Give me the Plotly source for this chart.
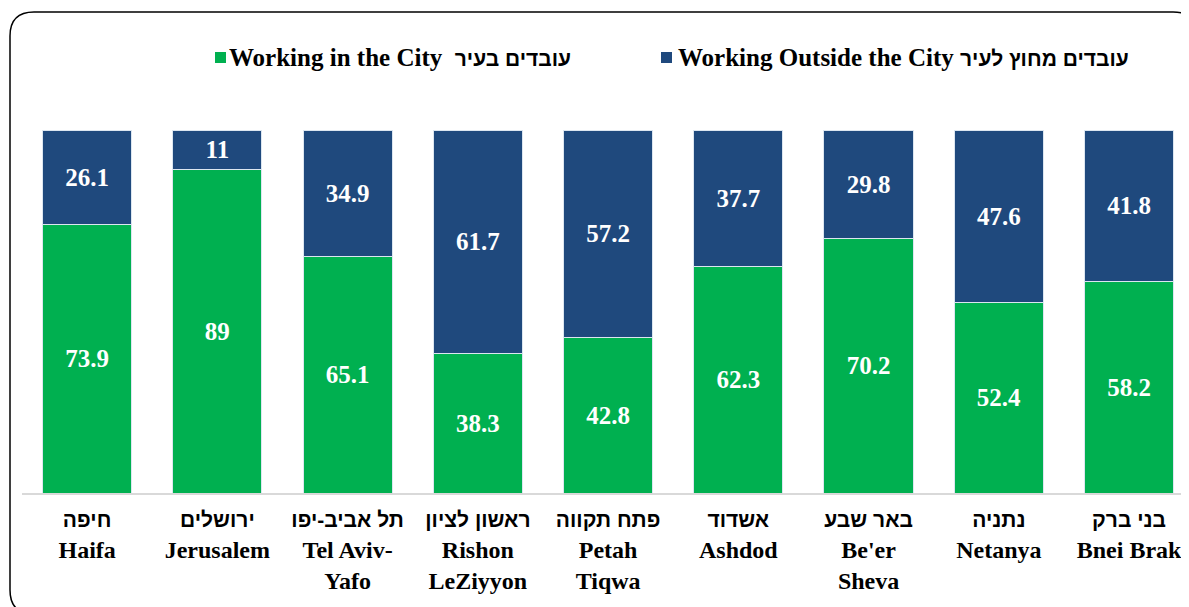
import plotly.graph_objects as go

# נתונים - אחוז העובדים בעיר ומחוץ לעיר
heb_names = ["חיפה", "ירושלים", "תל אביב-יפו", "ראשון לציון", "פתח תקווה",
             "אשדוד", "באר שבע", "נתניה", "בני ברק"]
eng_names = ["Haifa", "Jerusalem", "Tel Aviv-<br>Yafo", "Rishon<br>LeZiyyon",
             "Petah<br>Tiqwa", "Ashdod", "Be'er<br>Sheva", "Netanya", "Bnei Brak"]
in_city = [73.9, 89, 65.1, 38.3, 42.8, 62.3, 70.2, 52.4, 58.2]
outside_city = [26.1, 11, 34.9, 61.7, 57.2, 37.7, 29.8, 47.6, 41.8]

HEB = "<span style=\"font-family:'Liberation Sans';font-size:21px\">{}</span>"
cities = [HEB.format(h) + "<br>" + e for h, e in zip(heb_names, eng_names)]
name_in = "Working in the City  " + HEB.format("עובדים בעיר")
name_out = "Working Outside the City " + HEB.format("עובדים מחוץ לעיר")

GREEN, BLUE = "#00B050", "#1F497D"

# הדף מוסיף 8 פיקסלים של שוליים, לכן הגודל קטן ב-8
W, H = 1181, 599
ML, MR, MT, MB = 14, 0, 122, 114
SERIF = "Liberation Serif, Times New Roman, serif"

fig = go.Figure()
fig.add_trace(go.Bar(
    x=cities, y=in_city, name=name_in,
    marker=dict(color=GREEN, line=dict(color="#DCE6F0", width=1)),
    text=[f"{v:g}" for v in in_city], textposition="inside",
    insidetextanchor="middle", textangle=0,
    textfont=dict(family=SERIF, size=25, color="white", weight="bold"),
))
fig.add_trace(go.Bar(
    x=cities, y=outside_city, name=name_out,
    marker=dict(color=BLUE, line=dict(color="#DCE6F0", width=1)),
    text=[f"{v:g}" for v in outside_city], textposition="inside",
    insidetextanchor="middle", textangle=0,
    textfont=dict(family=SERIF, size=25, color="white", weight="bold"),
))

# מסגרת מעוגלת סביב התרשים (בפיקסלים -> paper)
pw, ph = W - ML - MR, H - MT - MB
def px(x):
    return (x - ML) / pw
def py(y):
    return (H - MB - y) / ph

x0, y0, x1, y1, r = 2, 4, 1189, 606, 24
path = (
    f"M {px(x0)},{py(y0 + r)} "
    f"Q {px(x0)},{py(y0)} {px(x0 + r)},{py(y0)} "
    f"L {px(x1 - r)},{py(y0)} "
    f"Q {px(x1)},{py(y0)} {px(x1)},{py(y0 + r)} "
    f"L {px(x1)},{py(y1 - r)} "
    f"Q {px(x1)},{py(y1)} {px(x1 - r)},{py(y1)} "
    f"L {px(x0 + r)},{py(y1)} "
    f"Q {px(x0)},{py(y1)} {px(x0)},{py(y1 - r)} Z"
)
fig.add_shape(type="path", path=path, xref="paper", yref="paper",
              line=dict(color="black", width=1.5), layer="below")

# מקרא ידני: ריבוע צבע צמוד לטקסט
legend_y = 49
for sq_x, txt_x, color, label in [(207, 219, GREEN, name_in), (653, 668, BLUE, name_out)]:
    fig.add_shape(type="rect", xref="paper", yref="paper",
                  x0=px(sq_x), x1=px(sq_x + 11), y0=py(legend_y - 5), y1=py(legend_y + 6),
                  fillcolor=color, line=dict(width=0))
    fig.add_annotation(x=px(txt_x), y=py(legend_y), xref="paper", yref="paper",
                       text=label, showarrow=False, xanchor="left", yanchor="middle",
                       font=dict(family=SERIF, size=25, color="black", weight="bold"))

fig.update_layout(
    barmode="stack",
    bargap=0.315,
    width=W, height=H,
    margin=dict(l=ML, r=MR, t=MT, b=MB),
    paper_bgcolor="white",
    plot_bgcolor="white",
    showlegend=False,
    xaxis=dict(
        range=[-0.5, 8.46], showline=True, linecolor="#D9D9D9", linewidth=1.5,
        tickfont=dict(family=SERIF, size=24, color="black", weight="bold"),
        ticks="", ticklabelstandoff=3, fixedrange=True,
    ),
    yaxis=dict(range=[0, 100], visible=False, fixedrange=True),
)

fig.write_html("out.html")
